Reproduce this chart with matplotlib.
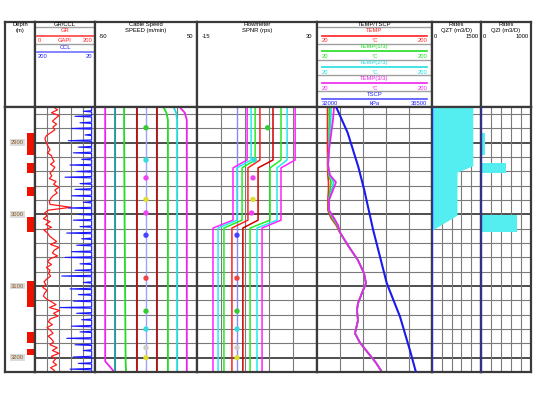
import numpy as np
import matplotlib.pyplot as plt

plt.rcParams['font.family'] = ['Liberation Sans', 'DejaVu Sans']

# depth range (m)
top_depth = 2850
bot_depth = 3220
depth_labels = [2900, 3000, 3100, 3200]

# perforations
perf_top = [2886, 2928, 2962, 3003, 3093, 3164, 3188]
perf_bot = [2917, 2942, 2974, 3024, 3129, 3180, 3196]

# GR every 4 m
gr_depth = np.arange(2850, 3220, 4)
gr = [62, 75, 55, 80, 68, 58, 72, 60, 66, 52,
      38, 33, 36, 40,
      45, 50, 42, 55,
      58, 64, 52, 66, 60,
      50, 56, 48,
      70, 62, 80, 66, 74, 60,
      52, 48, 50,
      120,
      45, 32, 40, 28, 50, 36, 55, 30, 42, 48,
      60, 72, 52, 80, 64, 58, 75, 50,
      42, 55, 38, 50, 45, 52, 40,
      30, 36, 26, 40, 32, 28, 38,
      55, 70, 48, 82, 62, 76, 50,
      45, 58, 40, 52, 60, 44, 55,
      62, 50, 74, 58, 80, 55, 68, 60, 72, 52, 65]

# CCL collars
ccl_base = 30
ccl_depth = [2856, 2863, 2872, 2880, 2889, 2897, 2906, 2914, 2923, 2931,
             2940, 2948, 2957, 2965, 2974, 2983, 2991, 3000, 3008, 3017,
             3026, 3034, 3043, 3052, 3060, 3069, 3078, 3086, 3095, 3104,
             3112, 3121, 3130, 3138, 3147, 3156, 3164, 3173, 3182, 3190,
             3199, 3208, 3216]
ccl_peak = [55, 80, 65, 90, 50, 100, 70, 85, 60, 95,
            75, 110, 65, 80, 90, 55, 100, 70, 85, 65,
            105, 60, 75, 90, 110, 65, 80, 120, 55, 95,
            70, 85, 125, 75, 60, 90, 65, 105, 80, 55,
            85, 70, 95]

# cable speed passes (m/min)
speed_depth = [2850, 2858, 2868, 3000, 3205, 3220]
spd_l40 = [-40, -40, -40, -40, -40, -31]
spd_l30 = [-30, -30, -30, -30, -30, -30]
spd_l20 = [-21.5, -21.5, -21.5, -21, -20, -19.5]
spd_l10 = [-9, -9, -9, -9, -9, -9]
spd_r10 = [10.5, 10.5, 10.5, 10.5, 10.5, 10.5]
spd_r20 = [17, 20, 21.5, 21.5, 21.5, 21.5]
spd_r30 = [27, 29.5, 30.5, 30.5, 30.5, 30.5]
spd_r40 = [33, 38, 40, 40, 40, 40]

# station markers
mark_depth = [2879, 2924, 2949, 2979, 2998, 3029, 3089, 3135, 3160, 3186, 3200]
mark_color = ['#33cc33', '#33dddd', '#ee44ee', '#dddd33', '#ee44ee', '#4444ff',
              '#ee4444', '#33cc33', '#33dddd', '#cccccc', '#dddd33']
flow_mark = [11.5, 6.5, 6.0, 6.0, 5.5, 0, 0, 0, 0, 0, 0]

# spinner (rps)
flow_depth = [2850, 2924, 2935, 3008, 3019, 3220]
fl_m1 = [3.8, 3.8, -1.5, -1.5, -9, -9]
fl_c1 = [5.3, 5.3, 0, 0, -7.1, -7.1]
fl_g1 = [6.8, 6.8, 1.9, 1.9, -4.9, -4.9]
fl_r1 = [8.6, 8.6, 4.1, 4.1, -1.9, -1.9]
fl_r2 = [13.5, 13.5, 7.9, 7.9, 2.2, 2.2]
fl_g2 = [16.5, 16.5, 12.4, 12.4, 4.9, 4.9]
fl_c2 = [18.8, 18.8, 15, 15, 7.5, 7.5]
fl_m2 = [21.8, 21.8, 16.5, 16.5, 9.4, 9.4]

# temperatures (degC)
temp_depth = [2850, 2868, 2889, 2910, 2931, 2945, 2955, 2966, 2980, 2994, 3005, 3015, 3025,
              3043, 3064, 3082, 3096, 3110, 3124, 3134, 3148, 3166, 3179, 3193, 3207, 3220]
temp_r = [36.5, 36.5, 36.5, 36.5, 36.5, 37, 38, 38, 37, 37, 42, 50, 55.5,
          68, 84, 93.5, 96.5, 90, 84, 82.5, 84, 79.5, 87, 99.5, 112, 121.5]
temp_g = [39.5, 39.5, 39, 38.5, 37.5, 38.5, 42, 40.5, 38, 38, 44, 51.5, 55.8,
          68.2, 84.1, 93.6, 96.6, 90.2, 84.1, 82.6, 84.1, 79.5, 87.1, 99.6, 112.1, 121.6]
temp_c = [42, 41.5, 40, 38.5, 37.3, 39.5, 46, 43, 38.5, 38.5, 45.5, 52.5, 56,
          68.5, 84.2, 93.6, 96.7, 90.4, 84.2, 82.6, 84.2, 79.5, 87.3, 99.8, 112.3, 121.7]
temp_m = [46.6, 45, 41.9, 38.8, 37.2, 40.3, 49.7, 45, 38.8, 38.8, 46.6, 52.9, 56,
          68.5, 84.2, 93.6, 96.7, 90.4, 84.2, 82.6, 84.2, 79.5, 87.3, 99.8, 112.3, 121.7]

# pressure (kPa)
pres_depth = [2850, 2886, 2934, 2966, 3022, 3096, 3143, 3190, 3220]
pres = [32750, 33200, 33620, 33850, 34200, 34730, 35250, 35640, 35870]

# rates (m3/D)
qzt_depth = [2850, 2932, 2941, 3001, 3022, 3220]
qzt = [1250, 1250, 765, 765, 0, 0]
qzi_top = [2886, 2928, 3001]
qzi_bot = [2917, 2942, 3024]
qzi = [80, 490, 720]

W, H = 534, 394
fig = plt.figure(figsize=(W / 100, H / 100), dpi=100)
fs = 4.2
edge = '#3a3a3a'


def box(x0, x1, y0, y1):
    return fig.add_axes([x0 / W, 1 - y1 / H, (x1 - x0) / W, (y1 - y0) / H])


def style(ax):
    ax.set_xticks([])
    ax.set_yticks([])
    for s in ax.spines.values():
        s.set_linewidth(1.6)
        s.set_color(edge)


def data_ax(x0, x1, xlim, grid=True):
    ax = box(x0, x1, 107, 372)
    ax.set_xlim(*xlim)
    ax.set_ylim(bot_depth, top_depth)
    style(ax)
    if grid:
        for d in range(2860, 3221, 20):
            major = d % 100 == 0
            ax.axhline(d, color='#404040' if major else '#7a7a7a',
                       lw=1.3 if major else 0.8, zorder=0)
        for v in np.linspace(xlim[0], xlim[1], 6)[1:-1]:
            ax.axvline(v, color='#7a7a7a', lw=0.8, zorder=0)
    return ax


def head_ax(x0, x1):
    ax = box(x0, x1, 22, 107)
    ax.set_xlim(0, 1)
    ax.set_ylim(107, 22)
    style(ax)
    return ax


def t(ax, x, y, s, c='black', ha='center'):
    ax.text(x, y, s, color=c, fontsize=fs, ha=ha, va='center')


def hline(ax, y, c, lw=1.2):
    ax.plot([0.04, 0.96], [y, y], color=c, lw=lw)


def scale(ax, y, lo, unit, hi, c):
    t(ax, 0.04, y, lo, c, 'left')
    if unit:
        t(ax, 0.5, y, unit, c)
    t(ax, 0.96, y, hi, c, 'right')


def sep(ax, y):
    ax.plot([0, 1], [y, y], color='#a0a0a0', lw=1)


# ---- depth track
h = head_ax(5, 35)
t(h, 0.5, 24.8, 'Depth')
t(h, 0.5, 30.7, '(m)')
ax = data_ax(5, 35, (0, 1), grid=False)
for a, b in zip(perf_top, perf_bot):
    ax.fill_betweenx([a, b], 0.73, 1.0, color='#ee1100', lw=0)
for d in depth_labels:
    ax.text(0.42, d, str(d), fontsize=4.2, color='#8a5a20', ha='center', va='center',
            bbox=dict(boxstyle='square,pad=0.15', fc='#dcdcdc', ec='none'))

# ---- GR / CCL
h = head_ax(35, 95)
t(h, 0.5, 24.5, 'GR/CCL')
sep(h, 26.9)
t(h, 0.5, 30.7, 'GR', '#ff2020')
hline(h, 35.5, '#ff4040')
scale(h, 40.7, '0', 'GAPI', '200', '#ff2020')
sep(h, 44)
t(h, 0.5, 47.2, 'CCL', '#2020ff')
hline(h, 51.5, '#7070ff')
scale(h, 57, '200', '', '20', '#2020ff')
ax = data_ax(35, 95, (0, 200))
ax.plot(gr, gr_depth, color='#ff1a1a', lw=0.9)
ax2 = ax.twiny()
ax2.set_xlim(200, 20)
ax2.set_xticks([])
for s in ax2.spines.values():
    s.set_visible(False)
cd, cv = [top_depth], [ccl_base]
for d, p in zip(ccl_depth, ccl_peak):
    cd += [d - 1, d, d + 1]
    cv += [ccl_base, p, ccl_base]
cd.append(bot_depth)
cv.append(ccl_base)
ax2.plot(cv, cd, color='#1a1aff', lw=0.8)

# ---- cable speed
h = head_ax(95, 197)
t(h, 0.5, 24.8, 'Cable Speed')
t(h, 0.5, 30.7, 'SPEED (m/min)')
scale(h, 36.6, '-50', '', '50', 'black')
ax = data_ax(95, 197, (-50, 50))
ax.plot([0, 0], [top_depth, bot_depth], color='#a0a0ff', lw=1)
ax.scatter([0] * len(mark_depth), mark_depth, s=8, c=mark_color, marker='o', zorder=4)
for vals, c in [(spd_l40, '#ee22ee'), (spd_l30, '#1a9fa0'), (spd_l20, '#22dd22'),
                (spd_l10, '#b01010'), (spd_r10, '#b01010'), (spd_r20, '#22dd22'),
                (spd_r30, '#22dddd'), (spd_r40, '#ee22ee')]:
    ax.plot(vals, speed_depth, color=c, lw=1.3)

# ---- flowmeter
h = head_ax(197, 317)
t(h, 0.5, 24.8, 'Flowmeter')
t(h, 0.5, 30.7, 'SPNR (rps)')
scale(h, 36.6, '-15', '', '30', 'black')
ax = data_ax(197, 317, (-15, 30))
ax.plot([0, 0], [top_depth, bot_depth], color='#8888ff', lw=1)
for vals, c in [(fl_m1, '#ff22ff'), (fl_c1, '#22eeee'), (fl_g1, '#22ee22'),
                (fl_r1, '#ff2020'), (fl_r2, '#cc0000'), (fl_g2, '#22ee22'),
                (fl_c2, '#22eeee'), (fl_m2, '#ff22ff')]:
    ax.plot(vals, flow_depth, color=c, lw=1.1)
ax.scatter(flow_mark, mark_depth, s=8, c=mark_color, marker='o', zorder=4)

# ---- temperature / pressure
h = head_ax(317, 432)
t(h, 0.5, 24.5, 'TEMP/TSCP')
sep(h, 26.9)
rows = [('TEMP', '#ff2020', 31), ('TEMP(1/3)', '#22dd22', 46.7),
        ('TEMP(2/3)', '#22dddd', 62.3), ('TEMP(3/3)', '#ee22ee', 78.3)]
for name, c, y in rows:
    t(h, 0.5, y, name, c)
    hline(h, y + 4.7, c)
    scale(h, y + 9.9, '20', '°C', '200', c)
    sep(h, y + 13)
t(h, 0.5, 94, 'TSCP', '#2020ff')
hline(h, 98.7, '#5050ff')
scale(h, 103.5, '32000', 'kPa', '36500', '#2020ff')
ax = data_ax(317, 432, (20, 200))
ax.plot(temp_r, temp_depth, color='#ff2020', lw=1.2)
ax.plot(temp_g, temp_depth, color='#22dd22', lw=1.2)
ax.plot(temp_c, temp_depth, color='#22dddd', lw=1.2)
ax.plot(temp_m, temp_depth, color='#ee22ee', lw=1.3)
ax2 = ax.twiny()
ax2.set_xlim(32000, 36500)
ax2.set_xticks([])
for s in ax2.spines.values():
    s.set_visible(False)
ax2.plot(pres, pres_depth, color='#1a1aee', lw=1.5)

# ---- rates QZT
h = head_ax(432, 481)
t(h, 0.5, 24.8, 'Rates')
t(h, 0.5, 30.7, 'QZT (m3/D)')
scale(h, 36.6, '0', '', '1500', 'black')
ax = data_ax(432, 481, (0, 1500))
ax.fill_betweenx(qzt_depth, 0, qzt, color='#55eef0', lw=0, zorder=1)
ax.axvline(0, color='#2a2ad0', lw=1.6, zorder=3)

# ---- rates QZI
h = head_ax(481, 531)
t(h, 0.5, 24.8, 'Rates')
t(h, 0.5, 30.7, 'QZI (m3/D)')
scale(h, 36.6, '0', '', '1000', 'black')
ax = data_ax(481, 531, (0, 1000))
for a, b, q in zip(qzi_top, qzi_bot, qzi):
    ax.barh((a + b) / 2, q, height=b - a, left=0, color='#55eef0', lw=0, zorder=1)
ax.axvline(0, color='#2a2ad0', lw=1.6, zorder=3)

fig.savefig('out.png', dpi=100)
